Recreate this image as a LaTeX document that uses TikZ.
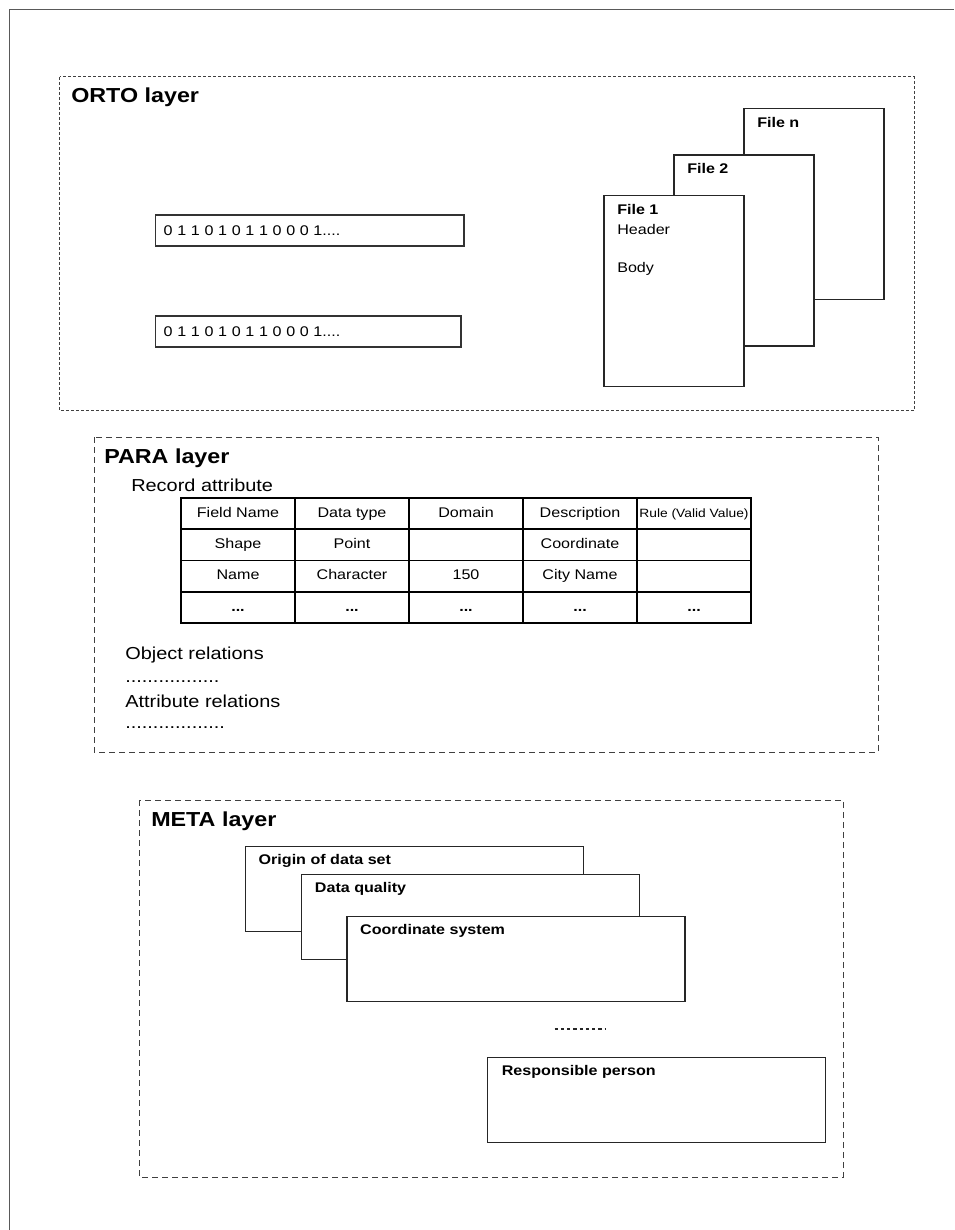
\documentclass[tikz,border=0pt]{standalone}
\usepackage{fontspec}
\setmainfont[FakeStretch=1.15]{Liberation Sans}
\usetikzlibrary{positioning}

\begin{document}
\begin{tikzpicture}[x=0.75pt,y=-0.75pt]

\tikzstyle{layertitle}=[inner sep=0pt,anchor=base west,font=\bfseries\fontsize{15.2}{18}\selectfont]
\tikzstyle{plaintext}=[inner sep=0pt,anchor=base west,font=\fontsize{13}{16}\selectfont]
\tikzstyle{bitbox}=[rectangle,draw=black!80,line width=1pt,inner xsep=6pt,inner ysep=0pt,outer sep=0pt,minimum height=23.25pt,align=left,anchor=north west,font=\fontsize{10.5}{12}\selectfont]
\tikzstyle{filepage}=[rectangle,draw=black!85,line width=1pt,fill=white,minimum width=105pt,minimum height=143.3pt,inner sep=0pt,outer sep=0pt]
\tikzstyle{metasheet}=[rectangle,draw=black!85,line width=1pt,fill=white,minimum width=253.5pt,minimum height=63.4pt,inner sep=0pt,outer sep=0pt]
\tikzstyle{boxtag}=[inner sep=0pt,align=left,font=\fontsize{10.5}{15}\selectfont]
\tikzstyle{cell}=[rectangle,draw,line width=1.4pt,minimum width=85.5pt,minimum height=23.55pt,inner sep=0pt,outer sep=0pt,text height=8pt,text depth=2.5pt,font=\fontsize{10.5}{12}\selectfont]
\tikzstyle{finedash}=[draw=black!75,line width=0.75pt,dash pattern=on 2.25pt off 1.5pt]
\tikzstyle{coarsedash}=[draw=black!75,line width=0.75pt,dash pattern=on 4.5pt off 3pt]

\useasboundingbox (0,0) rectangle (954,1230);
\draw[black!65,line width=0.75pt] (9,1230) -- (9,9.3) -- (954,9.3);

% ORTO layer
\draw[finedash] (59.6,77) rectangle (914,410.7);
\node[layertitle] (orto) at (71,103) {ORTO layer};
\node[bitbox,text width=219.2pt] (bits1) at (155.7,215) {0 1 1 0 1 0 1 1 0 0 0 1....};
\node[bitbox,text width=217pt] (bits2) at (155.7,316) {0 1 1 0 1 0 1 1 0 0 0 1....};

\node[filepage,anchor=north west] (filen) at (744,108.7) {};
\node[boxtag,below right=6pt and 9.75pt of filen.north west] (filentag) {\bfseries File n};
\node[filepage,below=34.7pt of filen.north west] (file2) {};
\node[boxtag,below right=6pt and 9.75pt of file2.north west] (file2tag) {\bfseries File 2};
\node[filepage,below=30.5pt of file2.north west] (file1) {};
\node[boxtag,below right=6pt and 9.75pt of file1.north west] (file1tag) {{\bfseries File 1}\\Header\\[13.5pt]Body};

% PARA layer
\draw[coarsedash] (94,437) rectangle (878,752);
\node[layertitle] (para) at (104,463) {PARA layer};
\node[plaintext] (record) at (131,491) {Record attribute};

\node[cell,anchor=north west] (h1) at (181,497.7) {Field Name};
\node[cell,right=0pt of h1] (h2) {Data type};
\node[cell,right=0pt of h2] (h3) {Domain};
\node[cell,right=0pt of h3] (h4) {Description};
\node[cell,right=0pt of h4,font=\fontsize{9}{11}\selectfont] (h5) {Rule (Valid Value)};

\node[cell,below=0pt of h1] (a1) {Shape};
\node[cell,right=0pt of a1] (a2) {Point};
\node[cell,right=0pt of a2] (a3) {};
\node[cell,right=0pt of a3] (a4) {Coordinate};
\node[cell,right=0pt of a4] (a5) {};

\node[cell,below=0pt of a1] (b1) {Name};
\node[cell,right=0pt of b1] (b2) {Character};
\node[cell,right=0pt of b2] (b3) {150};
\node[cell,right=0pt of b3] (b4) {City Name};
\node[cell,right=0pt of b4] (b5) {};

\node[cell,below=0pt of b1] (c1) {\bfseries ...};
\node[cell,right=0pt of c1] (c2) {\bfseries ...};
\node[cell,right=0pt of c2] (c3) {\bfseries ...};
\node[cell,right=0pt of c3] (c4) {\bfseries ...};
\node[cell,right=0pt of c4] (c5) {\bfseries ...};

\node[plaintext] (objrel) at (125,659) {Object relations};
\node[plaintext] (objdots) at (125,682) {.................};
\node[plaintext] (attrel) at (125,707) {Attribute relations};
\node[plaintext] (attdots) at (125,728) {..................};

% META layer
\draw[coarsedash] (139,800) rectangle (843,1177);
\node[layertitle] (meta) at (151,826) {META layer};

\node[metasheet,anchor=north west] (origin) at (245.4,846.7) {};
\node[boxtag,below right=5.5pt and 9.75pt of origin.north west] (origintag) {\bfseries Origin of data set};
\node[metasheet,below right=21pt and 42.2pt of origin.north west] (quality) {};
\node[boxtag,below right=5.5pt and 9.75pt of quality.north west] (qualitytag) {\bfseries Data quality};
\node[metasheet,below right=31.5pt and 33.9pt of quality.north west] (coord) {};
\node[boxtag,below right=5.5pt and 9.75pt of coord.north west] (coordtag) {\bfseries Coordinate system};

\draw[black!85,line width=1.3pt,dash pattern=on 2.5pt off 2.2pt] (554.5,1028.7) -- (605,1028.7);

\node[metasheet,anchor=north west] (resp) at (487.6,1057.7) {};
\node[boxtag,below right=5.5pt and 10.5pt of resp.north west] (resptag) {\bfseries Responsible person};

\end{tikzpicture}
\end{document}
